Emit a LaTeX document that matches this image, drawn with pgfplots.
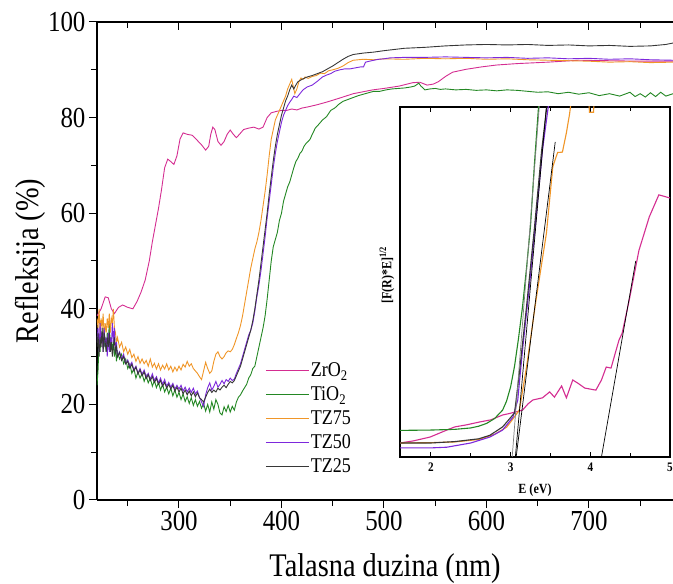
\documentclass[border=0pt]{standalone}
\usepackage{fontspec}
\setmainfont{Liberation Serif}[FakeStretch=0.86]
\usepackage{pgfplots}
\pgfplotsset{compat=1.18}
\usepackage{pgfplotstable}

\definecolor{czr}{RGB}{212,45,145}
\definecolor{cti}{RGB}{35,135,35}
\definecolor{cseventy}{RGB}{240,150,40}
\definecolor{cfifty}{RGB}{125,40,220}
\definecolor{ctwenty}{RGB}{55,55,55}

\pgfplotstableread{
x y
220 38.5
224 40
228 42.5
231 42.3
234 40
237 39
241 40.3
245 40.8
250 40.3
255 40
259 41.5
263 43.5
267 46
271 50
274 54
277 57.5
280 61
283 65
286 69.5
289 71.3
292 70.8
295 70.2
298 72
301 75.5
304 76.8
308 76.5
313 76.3
318 75.2
322 74.3
326 73.2
329 74
331 76.5
333 78
335 77.5
338 75
341 74.2
344 75
347 76.5
350 77.4
353 76.5
356 75.8
359 76.5
363 77.5
368 77.8
373 78
378 77.6
382 78
386 80
390 81
395 81.3
400 81.5
405 81.5
410 81.8
415 81.6
420 82
425 82.2
435 82.7
445 83.3
457 84.1
470 85
489 85.8
500 86.1
515 86.6
528 87.3
535 87.4
542 86.8
548 87
553 87.5
560 88.6
567 89.5
580 90.1
595 90.6
610 91
630 91.3
660 91.6
690 92
720 91.9
750 91.8
782 91.8
}\tzr

\pgfplotstableread{
x y
220 24
221 27
222 33
223 31
224 35
225 33
226 36
227 32
228 34
229 31
230 35
231 33
232 37
233 32
234 34
235 31
236 33
237 30
238 32
239 29
240 31
242 29.5
244 30.5
246 28.5
248 29.5
250 27.5
252 28.5
254 26.5
256 27.5
258 25.5
260 26.8
262 25.5
264 26.5
266 24.8
268 26
270 24.5
272 25.5
274 23.8
276 25
278 23.5
280 24.6
282 23
284 24.2
286 22.6
288 23.6
290 22.2
292 23.4
294 21.8
296 23
298 21.5
300 22.5
302 21
304 22.2
306 20.6
308 21.6
310 20.2
312 21.4
314 19.8
316 21
318 19.6
320 20.6
322 19.2
324 20.2
326 18.6
328 20
330 18.4
332 20.5
334 19
336 21
338 20
340 18.2
342 17.8
344 19.5
346 18.5
348 19.8
350 18.4
352 19.6
354 18.8
356 20.5
358 21.5
360 22
362 22.8
364 23.5
366 24.2
368 25.5
370 26.2
372 27.5
374 28
376 30
378 32
380 34
382 36
384 38.5
386 42
388 46
390 50
392 53
394 54.5
396 56
398 58.5
400 60
402 62.5
404 64
406 65.5
408 66.5
410 68
412 69.5
414 70.8
416 71.5
418 72.5
420 73
422 74
424 74.6
426 75
428 75.5
430 76.5
433 77.8
436 78.5
440 79.5
444 80.2
448 81.5
452 82
456 82.8
460 83.4
465 83.8
470 84.2
475 84.6
480 84.9
485 85.2
490 85.5
496 85.5
502 85.8
508 86
514 86.1
520 86.2
526 86.4
530 86.6
534 87.2
536 86.6
540 85.8
545 86
550 86.1
555 85.9
560 86
570 85.8
580 85.9
590 85.7
600 85.8
610 85.6
620 85.8
630 85.7
640 85.5
650 85.3
660 85.4
670 85
680 85.3
690 84.9
700 85.2
710 84.6
720 85
730 84.5
740 85.3
745 84.4
750 85
755 84.3
760 85.2
765 84.4
770 85.3
775 84.5
782 85
}\tti

\pgfplotstableread{
x y
220 38
221 36
222 40
223 35
224 38
225 36
226 39
227 34
228 37
229 35
230 38
231 36
232 39
233 35
234 38
235 37
236 40
237 36
238 35
239 33
240 34
242 32
244 33
246 31
248 32
250 30.5
252 31.5
254 29.8
256 30.5
258 29
260 30
262 28.6
264 29.5
266 28.5
268 29.2
270 28
272 29.5
274 27.8
276 28.6
278 27.4
280 28.5
282 27.2
284 28.2
286 27.4
288 28.5
290 27.2
292 28
294 26.8
296 27.8
298 27
300 28
302 27.2
304 28.4
306 27.8
308 29
310 28
312 28.5
314 27.5
316 27
318 26.5
320 25.8
322 25.2
324 27
326 28.8
328 27.5
330 26.5
332 27
334 29
336 30.5
338 31
340 30
342 29.5
344 30
346 30.8
348 31.2
350 31
352 31.5
354 32.5
356 33.8
358 35
360 36.5
362 38.5
364 41
366 43.5
368 46
370 48.5
372 50.5
374 52.5
376 54
378 56
380 58.5
382 61.5
384 64.5
386 68
388 72
390 75.5
392 77.5
394 79.5
396 80.5
398 81.5
400 82.5
402 83.5
404 84.5
406 86
408 87
410 88
412 86
413 85
415 86
417 87.5
419 88.3
421 88
423 88.5
426 88.2
430 88.6
434 88.8
438 89.3
442 89.2
446 89.8
450 90
455 90.3
460 90.8
465 91.5
470 92
480 92.2
490 92.1
500 92.3
520 92.2
540 92.4
560 92.3
580 92.4
600 92.2
620 92.3
640 92.1
660 92
680 91.9
700 91.8
720 91.6
740 91.7
760 91.5
782 91.6
}\tseventy

\pgfplotstableread{
x y
220 33
221 36
222 31
223 37
224 33
225 35
226 31
227 36
228 32
229 34
230 30
231 35
232 31
233 34
234 32
235 37
236 33
237 36
238 31
239 33
240 30
242 31
244 29.5
246 30.5
248 28.5
250 29.3
252 28
254 28.8
256 27.2
258 28
260 26.5
262 27.5
264 26.3
266 27.2
268 25.8
270 26.5
272 25.2
274 26.4
276 25
278 25.8
280 24.5
282 25.5
284 24.2
286 25.2
288 23.8
290 24.6
292 23.6
294 24.4
296 23.2
298 24
300 23.2
302 24
304 22.8
306 23.6
308 22.6
310 23.4
312 22.5
314 23.4
316 22.2
318 22.8
320 21.5
322 20.5
324 19.6
326 22
328 23.5
330 24.5
332 23
334 23.8
336 24.8
338 23.6
340 24.2
342 25
344 24.3
346 25.2
348 24.8
350 25.5
352 25
354 25.3
356 26.5
358 27.5
360 28.5
362 30
364 31.5
366 33
368 34.5
370 35.5
372 37
374 39.5
376 42.5
378 45
380 48
382 51.5
384 55
386 59
388 62.5
390 66
392 69.5
394 72.5
396 75
398 77
400 79
402 80.5
404 81.5
406 82.5
408 83.2
410 83.8
412 84.5
415 84.2
418 85
421 85.8
425 86.4
430 86.8
435 87.6
440 88.5
444 88.9
448 89.2
452 89.7
457 90
462 90.2
467 90.2
472 90.4
477 90.6
480 90.6
482 91.6
486 91.8
490 92
495 92.2
500 92.3
506 92.5
520 92.6
540 92.6
560 92.7
580 92.6
600 92.5
620 92.6
640 92.4
660 92.5
680 92.3
700 92.4
720 92.2
740 92.3
760 92.1
782 92
}\tfifty

\pgfplotstableread{
x y
220 32
221 35
222 30
223 34
224 32
225 36
226 31
227 35
228 33
229 31
230 34
231 32
232 35
233 31
234 33
235 30
236 32
237 34
238 31
239 32
240 30
242 30.8
244 29.2
246 30
248 28.5
250 29
252 27.6
254 28.4
256 27
258 27.8
260 26.4
262 27.2
264 26
266 26.8
268 25.4
270 26.2
272 25
274 25.8
276 24.6
278 25.4
280 24.2
282 25
284 23.8
286 24.6
288 23.4
290 24.2
292 23.2
294 24
296 22.8
298 23.6
300 22.6
302 23.4
304 22.2
306 23
308 22
310 22.8
312 21.8
314 22.6
316 21.6
318 22.4
320 21.4
322 21
324 20.5
326 21.5
328 22.5
330 23.2
332 22.5
334 23
336 22.6
338 23.4
340 23
342 23.6
344 24
346 23.5
348 24.2
350 24.8
352 24.5
354 25
356 26
358 27
360 28
362 29.5
364 31
366 32.5
368 34
370 35.5
372 37.5
374 40
376 43
378 46
380 49.5
382 53
384 56.5
386 60
388 64
390 67.5
392 71
394 74
396 76.5
398 78.5
400 80.5
402 82
404 83.5
406 84.5
408 85.8
410 86.8
412 86
414 86.8
416 87.5
420 88
425 88.5
430 88.8
435 89.2
440 89.6
445 90.2
450 90.8
455 91.5
460 92.2
465 92.8
470 93.2
480 93.5
490 93.7
500 94
520 94.5
540 94.7
560 95
580 95.2
600 95.3
620 95.2
640 95.3
660 95.1
680 95.2
700 95
720 95.1
740 94.9
760 95
775 95.3
782 95.6
}\ttwenty

\begin{document}
\begin{tikzpicture}
\begin{axis}[
  at={(0pt,0pt)}, anchor=south west,
  width=576pt, height=478pt, scale only axis,
  xmin=220, xmax=782, ymin=0, ymax=100,
  axis x line*=bottom, axis y line*=left,
  axis line style={line width=1.2pt},
  tick align=outside,
  xtick={300,400,...,700}, minor xtick={250,350,...,750},
  ytick={0,20,...,100}, minor ytick={10,30,...,90},
  major tick length=8pt, minor tick length=6pt,
  every tick/.style={black, line width=1pt},
  /pgf/number format/assume math mode=true,
  ticklabel style={font=\fontsize{29}{32}\selectfont},
  xlabel={Talasna duzina (nm)}, ylabel={Refleksija (\%)},
  label style={font=\fontsize{33}{36}\selectfont},
  xlabel style={at={(rel axis cs:0.5,0)}, anchor=center, yshift=-69pt},
  ylabel style={at={(rel axis cs:0,0.5)}, anchor=center, yshift=67pt},
  legend style={at={(rel axis cs:0.292,0.29)}, anchor=north west, draw=none, fill=none,
    font=\fontsize{21}{24}\selectfont, row sep=5.5pt, inner sep=0pt,
    nodes={inner sep=1.5pt}},
  legend cell align=left,
  legend image code/.code={\draw[#1] (0pt,0pt) -- (43pt,0pt);},
]
\addplot[czr, line width=0.9pt] table {\tzr};
\addlegendentry{ZrO\textsubscript{2}}
\addplot[cti, line width=0.9pt] table {\tti};
\addlegendentry{TiO\textsubscript{2}}
\addplot[cseventy, line width=0.9pt] table {\tseventy};
\addlegendentry{TZ75}
\addplot[cfifty, line width=0.9pt] table {\tfifty};
\addlegendentry{TZ50}
\addplot[ctwenty, line width=0.9pt] table {\ttwenty};
\addlegendentry{TZ25}
\end{axis}
\begin{axis}[
  at={(0pt,0pt)}, anchor=south west,
  width=576pt, height=478pt, scale only axis,
  xmin=220, xmax=782, ymin=0, ymax=100,
  axis x line*=top, axis y line=none,
  axis line style={line width=1.2pt},
  tick align=inside,
  xtick={300,400,...,700}, minor xtick={250,350,...,750},
  xticklabels={}, ytick=\empty,
  major tick length=8pt, minor tick length=6pt,
  every tick/.style={black, line width=1pt},
]
\end{axis}
\begin{axis}[
  at={(303pt,43pt)}, anchor=south west,
  width=270pt, height=350pt, scale only axis,
  xmin=1.6125, xmax=5, ymin=0, ymax=100,
  axis background/.style={fill=white},
  axis line style={line width=1.2pt},
  tick align=inside,
  xtick={2,3,4,5}, minor xtick={2.5,3.5,4.5}, ytick=\empty,
  major tick length=5pt, minor tick length=4pt,
  every tick/.style={black, line width=0.8pt},
  /pgf/number format/assume math mode=true,
  ticklabel style={font=\bfseries\fontsize{13}{14}\selectfont},
  xticklabel style={yshift=-2pt},
  xlabel={E (eV)}, ylabel={[F(R)*E]\textsuperscript{1/2}},
  label style={font=\bfseries\fontsize{14}{15}\selectfont},
  xlabel style={at={(rel axis cs:0.5,0)}, anchor=center, yshift=-33pt},
  ylabel style={at={(rel axis cs:0,0.52)}, anchor=center, yshift=13pt},
]
\addplot[czr, line width=1.1pt] coordinates {
(1.6125,4) (1.78,4.6) (1.99,5.7) (2.2,7.7) (2.3,8.6) (2.45,9.2) (2.61,10) (2.75,10.6) (2.9,12) (2.98,12.4)
(3.07,12.9) (3.15,13.4) (3.22,15.2) (3.28,16.3) (3.4,16.9) (3.49,18.6) (3.55,17.1) (3.64,20.3) (3.7,16.9)
(3.78,22) (3.85,21) (3.93,19.7) (4.07,19.1) (4.14,22) (4.2,25.7) (4.26,25.4) (4.36,33.4) (4.4,35.4) (4.49,45)
(4.61,59) (4.74,68.6) (4.86,74.9) (5,74)};
\addplot[cti, line width=1.1pt] coordinates {
(1.6125,7.6) (2.0,7.7) (2.3,7.9) (2.5,8.3) (2.6,8.8) (2.7,9.6) (2.8,11) (2.9,13.4) (2.95,16) (3.0,20)
(3.05,26) (3.1,34) (3.15,43) (3.2,54) (3.25,66) (3.3,84) (3.36,103)};
\addplot[cseventy, line width=1.1pt] coordinates {
(1.6125,4) (2.0,4.1) (2.3,4.3) (2.6,5) (2.8,6.5) (2.95,8.5) (3.02,10.6) (3.11,13.4) (3.2,25.7) (3.32,45)
(3.45,64) (3.53,83) (3.59,87) (3.65,87.1) (3.7,92.6) (3.74,98) (3.78,105) (3.97,105) (3.99,98.5) (4.04,98.5) (4.06,105)};
\addplot[cfifty, line width=1.1pt] coordinates {
(1.6125,2.6) (2.0,2.6) (2.2,2.8) (2.5,4) (2.74,5.7) (2.9,7.7) (3.03,11.4) (3.09,16.3) (3.15,30.6) (3.24,49.7)
(3.32,68.6) (3.4,87.7) (3.49,103)};
\addplot[ctwenty, line width=1.1pt] coordinates {
(1.6125,4) (2.0,4) (2.3,4.4) (2.6,5.2) (2.74,6.2) (2.9,8.6) (3.05,12.6) (3.11,24) (3.2,43) (3.3,65.7)
(3.39,87.7) (3.47,103)};
\addplot[gray, line width=0.7pt] coordinates {(3.02,0) (3.37,103)};
\addplot[black, line width=0.7pt] coordinates {(3.06,0) (3.46,103)};
\addplot[black, line width=0.7pt] coordinates {(3.07,0) (3.56,90)};
\addplot[black, line width=0.7pt] coordinates {(4.14,0) (4.57,56)};
\end{axis}
\pgfresetboundingbox
\path[use as bounding box] (-97pt,-84pt) rectangle (576pt,500pt);
\end{tikzpicture}
\end{document}
